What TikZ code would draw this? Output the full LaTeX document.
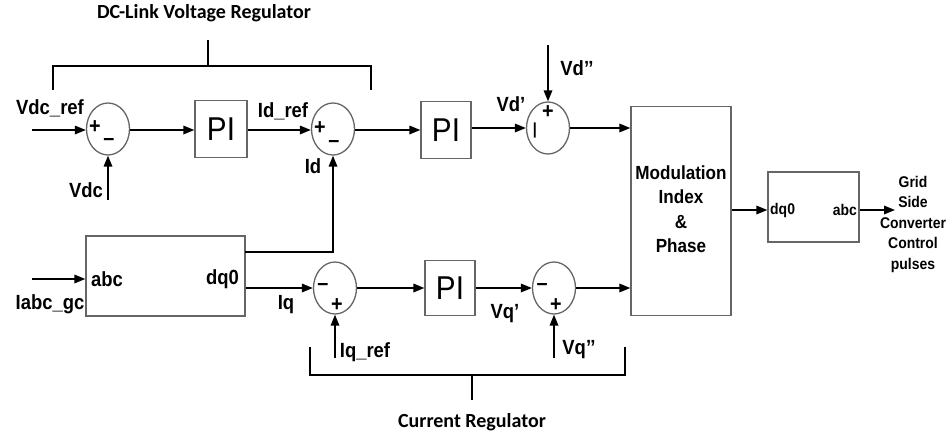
\documentclass[tikz,border=0pt]{standalone}
\usepackage{fontspec}
\setmainfont{Liberation Sans}[FakeStretch=0.9]
\newfontfamily\titlefont{Carlito}
\usetikzlibrary{shapes.geometric,arrows.meta}
\tikzset{
  sig/.style={line width=1.7pt,draw=black},
  arr/.style={sig,-{Triangle[length=11pt,width=8.5pt]}},
  blk/.style={draw=black!60,line width=1.3pt,fill=white,inner sep=0pt},
  sumnode/.style={ellipse,draw=black!60,line width=1.3pt,minimum width=43pt,minimum height=52pt,inner sep=0pt},
  brk/.style={line width=2.6pt,draw=black},
  lbl/.style={font=\fontsize{20.5}{22}\selectfont\bfseries,inner sep=0pt},
  smlbl/.style={font=\fontsize{15.5}{17}\selectfont\bfseries,inner sep=0pt},
  sgn/.style={font=\fontsize{22}{24}\selectfont\bfseries,inner sep=0pt},
  pitxt/.style={font=\fontsize{33}{35}\selectfont},
  ttl/.style={font=\titlefont\fontsize{20}{22}\selectfont\bfseries,inner sep=0pt}
}
\begin{document}
\begin{tikzpicture}[x=1pt,y=-1pt]
\useasboundingbox (0,0) rectangle (952,444);
% titles
\node[ttl] (t1) at (204,13) {DC-Link Voltage Regulator};
\node[ttl] (t2) at (472,422) {Current Regulator};
% brackets
\coordinate (b1s) at (208,40);
\coordinate (b1m) at (208,66);
\coordinate (b1l) at (53,90);
\coordinate (b1r) at (371,90);
\draw[brk] (b1s) -- (b1m);
\draw[brk] (b1l) |- (b1m) -| (b1r);
\coordinate (b2s) at (472,400);
\coordinate (b2m) at (472,375);
\coordinate (b2l) at (310,347);
\coordinate (b2r) at (625,347);
\draw[brk] (b2s) -- (b2m);
\draw[brk] (b2l) |- (b2m) -| (b2r);
% blocks
\node[sumnode] (s1) at (108,129) {};
\node[blk,minimum width=52pt,minimum height=57pt] (pi1) at (221,129) {};
\node[pitxt] at (pi1) {PI};
\node[sumnode] (s2) at (333,129) {};
\node[blk,minimum width=50pt,minimum height=57pt] (pi2) at (446,130) {};
\node[pitxt] at (pi2) {PI};
\node[sumnode] (s3) at (548,128) {};
\node[blk,minimum width=100pt,minimum height=209pt] (mod) at (681,211) {};
\node[font=\fontsize{19}{24.5}\selectfont\bfseries,align=center] at (681,209) {Modulation\\Index\\\&\\Phase};
\node[blk,minimum width=91pt,minimum height=70pt] (c2) at (813.5,207) {};
\node[smlbl,anchor=west] at (770,210) {dq0};
\node[smlbl,anchor=east] at (857,210) {abc};
\node[blk,minimum width=159pt,minimum height=80pt] (c1) at (165.5,276) {};
\node[lbl,anchor=west] at (91,279) {abc};
\node[lbl,anchor=east] at (239,279) {dq0};
\node[sumnode] (s4) at (335,288) {};
\node[blk,minimum width=50pt,minimum height=55pt] (pi3) at (450,288) {};
\node[pitxt] at (pi3) {PI};
\node[sumnode] (s5) at (554,288) {};
% signs
\node[sgn] at (95,127) {+};
\node[sgn] at (109,142) {–};
\node[sgn] at (320,128) {+};
\node[sgn] at (334,144) {–};
\node[sgn] at (548,112) {+};
\node[sgn,font=\fontsize{16}{18}\selectfont\bfseries] at (535,130) {|};
\node[sgn] at (323,287) {–};
\node[sgn] at (337,305) {+};
\node[sgn] at (542,287) {–};
\node[sgn] at (556,305) {+};
% inputs
\coordinate (vdcrefin) at (32,130);
\coordinate (vdcin) at (108,200);
\coordinate (vddin) at (548,45);
\coordinate (iabcin) at (32,279);
\coordinate (iqrefin) at (335,358);
\coordinate (vqqin) at (554,358);
\coordinate (idtap) at (245,252);
\coordinate (outend) at (895,210);
% connectors
\draw[arr] (vdcrefin) -- (s1.west |- vdcrefin);
\draw[arr] (vdcin) -- (s1.south);
\draw[arr] (s1.east |- vdcrefin) -- (pi1.west |- vdcrefin);
\draw[arr] (pi1.east |- vdcrefin) -- (s2.west |- vdcrefin);
\draw[arr] (idtap) -| (s2.south);
\draw[arr] (s2.east |- vdcrefin) -- (pi2.west |- vdcrefin);
\draw[arr] (pi2.east |- s3) -- (s3.west);
\draw[arr] (vddin) -- (s3.north);
\draw[arr] (s3.east) -- (mod.west |- s3);
\draw[arr] (iabcin) -- (c1.west |- iabcin);
\draw[arr] (c1.east |- s4) -- (s4.west);
\draw[arr] (iqrefin) -- (s4.south);
\draw[arr] (s4.east) -- (pi3.west |- s4);
\draw[arr] (pi3.east |- s5) -- (s5.west);
\draw[arr] (vqqin) -- (s5.south);
\draw[arr] (s5.east) -- (mod.west |- s5);
\draw[arr] (mod.east |- outend) -- (c2.west |- outend);
\draw[arr] (c2.east |- outend) -- (outend);
% labels
\node[lbl] (l1) at (50,108) {Vdc\_ref};
\node[lbl] (l2) at (86,190) {Vdc};
\node[lbl] (l3) at (283,111) {Id\_ref};
\node[lbl] (l4) at (313,166) {Id};
\node[lbl] (l5) at (511,104) {Vd’};
\node[lbl] (l6) at (577,68) {Vd’’};
\node[lbl] (l7) at (50,304) {Iabc\_gc};
\node[lbl] (l8) at (286,305) {Iq};
\node[lbl] (l9) at (365,352) {Iq\_ref};
\node[lbl] (l10) at (505,314) {Vq’};
\node[lbl] (l11) at (579,350) {Vq’’};
\node[align=center,font=\fontsize{15.5}{20.5}\selectfont\bfseries,inner sep=0pt] (l12) at (913,224) {Grid\\Side\\Converter\\Control\\pulses};
\end{tikzpicture}
\end{document}
